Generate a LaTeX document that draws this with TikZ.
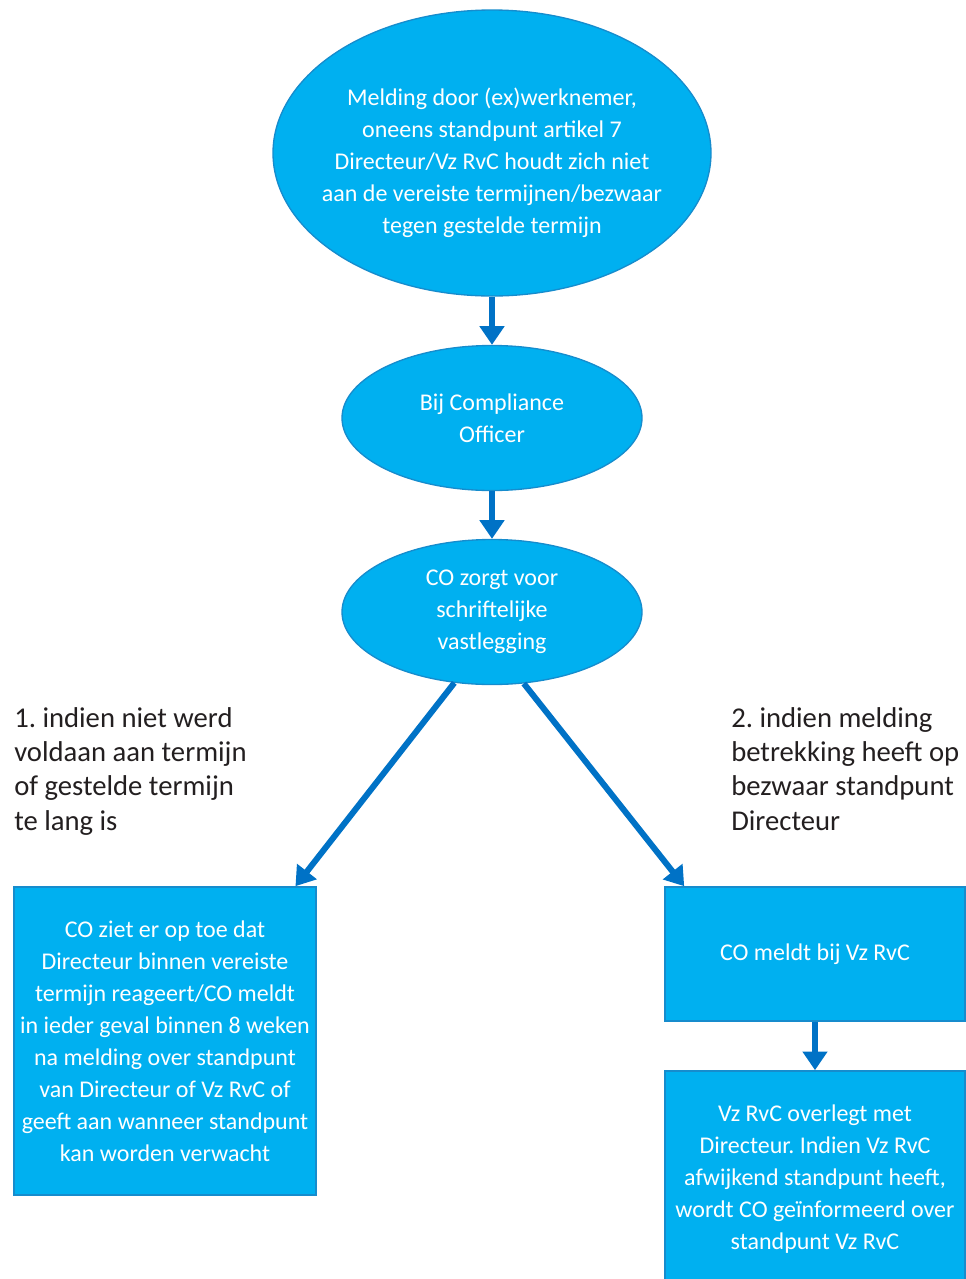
\documentclass[tikz,border=0pt]{standalone}
\usepackage{fontspec}
\setmainfont{Carlito}
\usetikzlibrary{shapes.geometric, arrows.meta}
\definecolor{flowfill}{RGB}{0,176,240}
\definecolor{flowline}{RGB}{22,140,205}
\definecolor{flowarrow}{RGB}{0,114,198}
\definecolor{notetext}{RGB}{35,31,32}
\tikzstyle{flowtext} = [text=white, align=center, inner sep=0pt, font=\fontsize{18}{24}\selectfont]
\tikzstyle{oval} = [ellipse, draw=flowline, line width=1pt, fill=flowfill, flowtext]
\tikzstyle{box} = [rectangle, draw=flowline, line width=1.2pt, fill=flowfill, flowtext]
\tikzstyle{arrow} = [line width=4.5pt, draw=flowarrow, -{Triangle[width=18pt,length=14pt]}]
\tikzstyle{note} = [anchor=north west, align=left, inner sep=0pt, text=notetext, font=\fontsize{21.5}{25.8}\selectfont]

\begin{document}
\begin{tikzpicture}[x=0.75pt, y=-0.75pt]
      \useasboundingbox (0,0) rectangle (966,1279);
      \clip (0,0) rectangle (966,1279);
      % top of the flow
      \node (melding) at (492, 153) [oval, minimum width=328.5pt, minimum height=214.5pt,
            label={[flowtext, yshift=-7pt]center:Melding door (ex)werknemer,\\ oneens standpunt artikel 7\\ Directeur/Vz RvC houdt zich niet\\ aan de vereiste termijnen/bezwaar\\ tegen gestelde termijn}] {};
      \node (officer) at (492, 418) [oval, minimum width=225pt, minimum height=108.75pt]
            {Bij Compliance\\ Officer};
      \node (vastleg) at (492, 612) [oval, minimum width=225pt, minimum height=108.75pt]
            {CO zorgt voor\\ schriftelijke\\ vastlegging};
      % the two branches
      \node (toezicht) at (165, 1041) [box, minimum width=226.5pt, minimum height=231pt]
            {CO ziet er op toe dat\\ Directeur binnen vereiste\\ termijn reageert/CO meldt\\ in ieder geval binnen 8 weken\\ na melding over standpunt\\ van Directeur of Vz RvC of\\ geeft aan wanneer standpunt\\ kan worden verwacht};
      \node (meldt) at (815, 954) [box, minimum width=225pt, minimum height=100.5pt]
            {CO meldt bij Vz RvC};
      \node (overleg) at (815, 1179) [box, minimum width=225pt, minimum height=162pt]
            {Vz RvC overlegt met\\ Directeur.\ Indien Vz RvC\\ afwijkend standpunt heeft,\\ wordt CO geïnformeerd over\\ standpunt Vz RvC};
      \node (optie1) at (14, 707) [note]
            {1.\ indien niet werd\\ voldaan aan termijn\\ of gestelde termijn\\ te lang is};
      \node (optie2) at (731, 707) [note]
            {2.\ indien melding\\ betrekking heeft op\\ bezwaar standpunt\\ Directeur};

      \draw[arrow] (melding) -- (officer);
      \draw[arrow] (officer) -- (vastleg);
      \draw[arrow] (vastleg.242) -- ([xshift=-16pt]toezicht.north east);
      \draw[arrow] (vastleg.294) -- ([xshift=15pt]meldt.north west);
      \draw[arrow] (meldt) -- (overleg);
    \end{tikzpicture}
\end{document}
